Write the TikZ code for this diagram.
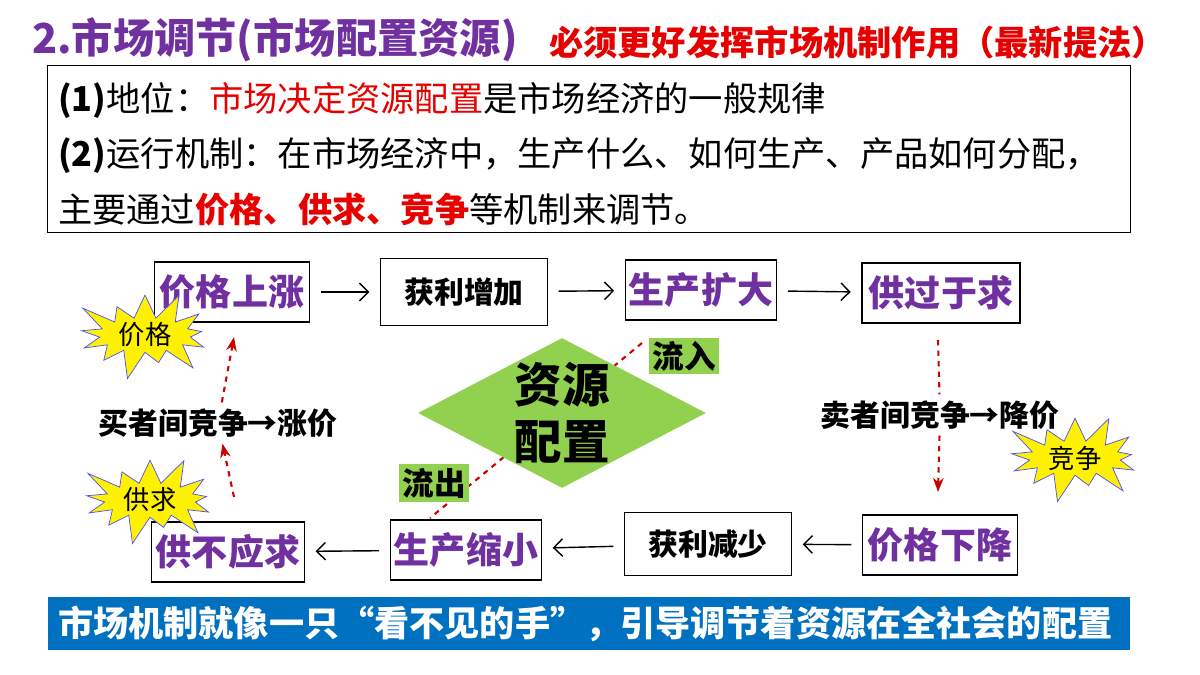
\documentclass[tikz,border=0pt]{standalone}
\usepackage{fontspec}
\setmainfont{Noto Sans CJK SC}
\usetikzlibrary{arrows.meta,shapes.geometric,shapes.symbols}
\definecolor{vio}{RGB}{112,48,160}
\definecolor{bred}{RGB}{230,0,0}
\definecolor{lgreen}{RGB}{146,208,80}
\definecolor{barblue}{RGB}{0,112,192}
\tikzset{
  stepbox/.style={draw, thick, minimum height=34pt, inner sep=2pt, font=\fontsize{20.5}{22}\selectfont\bfseries, text=vio},
  plainbox/.style={stepbox, text=black, font=\fontsize{17}{20}\selectfont\bfseries},
  burst/.style={starburst, starburst points=13, starburst point height=18pt, draw=blue!70, fill=yellow, font=\fontsize{15}{17}\selectfont, minimum width=88pt, minimum height=50pt, inner sep=0pt},
  tag/.style={fill=lgreen, font=\fontsize{18}{20}\selectfont\bfseries, inner sep=2pt},
  redarrow/.style={red!80!black, dashed, very thick, -{Stealth[length=8pt]}}
}
\begin{document}
\begin{tikzpicture}[x=0.02cm, y=-0.02cm]
\useasboundingbox (0,0) rectangle (1200,675);
\node[anchor=west, text=vio, font=\fontsize{23.5}{26}\selectfont\bfseries] (title) at (26,40) {2.市场调节(市场配置资源)};
\node[anchor=west, text=bred, font=\fontsize{19.5}{22}\selectfont\bfseries] (note) at (543,42) {必须更好发挥市场机制作用（最新提法）};
\node[draw, minimum width=1083*0.02cm, minimum height=167*0.02cm, anchor=north west] (frame) at (47,65) {};
\node[anchor=west, font=\fontsize{19.5}{22}\selectfont] (l1) at (52,100) {\textbf{(1)}地位：\textcolor{bred}{市场决定资源配置}是市场经济的一般规律};
\node[anchor=west, font=\fontsize{19.5}{22}\selectfont] (l2) at (52,155) {\textbf{(2)}运行机制：在市场经济中，生产什么、如何生产、产品如何分配，};
\node[anchor=west, font=\fontsize{19.5}{22}\selectfont] (l3) at (52,210) {主要通过\textcolor{bred}{\bfseries 价格、供求、竞争}等机制来调节。};
% cycle boxes
\node[stepbox, minimum width=88pt] (up) at (232,292) {价格上涨};
\node[plainbox, minimum width=95pt, minimum height=38pt] (gain) at (464,292) {获利增加};
\node[stepbox, minimum width=86pt] (expand) at (701,290) {生产扩大};
\node[stepbox, minimum width=90pt] (over) at (941,293) {供过于求};
\node[stepbox, minimum width=88pt] (down) at (940,545) {价格下降};
\node[plainbox, minimum width=95pt, minimum height=36pt] (loss) at (708,544) {获利减少};
\node[stepbox, minimum width=86pt] (shrink) at (466,550) {生产缩小};
\node[stepbox, minimum width=87pt] (short) at (228,552) {供不应求};
\foreach \u/\v in {up/gain, gain/expand, expand/over, down/loss, loss/shrink, shrink/short}
  \draw[thick, -{Straight Barb[length=5pt]}, shorten >=6pt, shorten <=6pt] (\u) -- (\v);
% resource allocation
\coordinate (inA) at (642,343);
\coordinate (outB) at (430,518);
\draw[red!80!black, dashed, very thick] (inA) -- (outB);
\node[diamond, fill=lgreen, minimum width=288*0.02cm, minimum height=150*0.02cm, inner sep=0pt] (res) at (562,413) {};
\node[font=\fontsize{27}{32}\selectfont\bfseries, align=center] (restext) at (res.center) {资源\\配置};
\node[tag] (inflow) at (684,356) {流入};
\node[tag] (outflow) at (434,483) {流出};
% competition arrows
\coordinate (lb) at (234,497);
\coordinate (lt) at (234,337);
\coordinate (rt) at (938,340);
\coordinate (rb) at (938,492);
\node[font=\fontsize{17}{19}\selectfont\bfseries, fill=white] (buyer) at (218,423) {买者间竞争→涨价};
\node[font=\fontsize{17}{19}\selectfont\bfseries, fill=white] (seller) at (940,415) {卖者间竞争→降价};
\draw[redarrow] (lb) -- (buyer);
\draw[redarrow] (buyer) -- (lt);
\draw[red!80!black, dashed, very thick] (rt) -- (seller);
\draw[redarrow] (seller) -- (rb);
\node[burst] (b1) at (145,335) {价格};
\node[burst] (b2) at (150,500) {供求};
\node[burst] (b3) at (1075,458) {竞争};
% bottom banner
\node[fill=barblue, text=white, minimum width=1082*0.02cm, minimum height=53*0.02cm, anchor=north west, inner sep=0pt] (bar) at (48,597) {};
\node[text=white, font=\fontsize{20}{22}\selectfont\bfseries, anchor=west] (bartext) at (52,624) {市场机制就像一只“看不见的手”，引导调节着资源在全社会的配置};
\end{tikzpicture}
\end{document}
